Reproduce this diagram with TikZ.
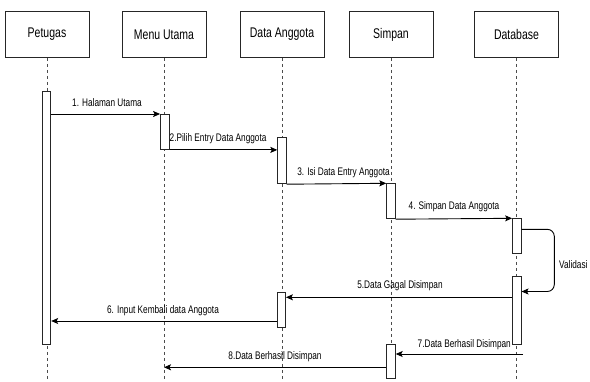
\documentclass[tikz,border=0pt]{standalone}
\usepackage{fontspec}
\setmainfont{Liberation Sans}[FakeStretch=0.75]
\usetikzlibrary{arrows.meta}
\begin{document}
\begin{tikzpicture}[x=1pt,y=-1pt,
  actor/.style={draw=black!85, line width=0.9pt, fill=white, minimum width=84pt, minimum height=46pt, inner sep=0, font=\fontsize{14}{16}\selectfont},
  life/.style={draw=black!70, line width=0.8pt, dash pattern=on 3pt off 3pt},
  act/.style={draw=black!85, line width=0.9pt, fill=white, minimum width=8.5pt, inner sep=0, anchor=north},
  msg/.style={draw=black, line width=0.9pt, -{Stealth[length=7pt,width=6pt,inset=1.5pt]}},
  lbl/.style={inner sep=0, font=\fontsize{11}{13}\selectfont}]
\useasboundingbox (0,0) rectangle (590,381);
% actors
\node[actor] (pet) at (47,34.5) {Petugas};
\node[actor] (menu) at (164,34.5) {Menu Utama};
\node[actor] (da) at (282,34.5) {Data Anggota};
\node[actor] (simp) at (391,34.5) {Simpan};
\node[actor] (db) at (516.5,34.5) {Database};
\coordinate (bot) at (0,381);
% lifelines
\draw[life] (pet.south) -- (pet.south |- bot);
\draw[life] (menu.south) -- (menu.south |- bot);
\draw[life] (da.south) -- (da.south |- bot);
\draw[life] (simp.south) -- (simp.south |- bot);
\draw[life] (db.south) -- (db.south |- bot);
% activations
\node[act, minimum height=253pt] (pA) at (46.5,91) {};
\node[act, minimum height=35pt] (mA) at (164.8,114) {};
\node[act, minimum height=46pt] (dA1) at (282,137.3) {};
\node[act, minimum height=35pt] (sA1) at (391,183.3) {};
\node[act, minimum height=34.4pt] (bA1) at (516.8,218.3) {};
\node[act, minimum height=68.6pt] (bA2) at (516.8,275.7) {};
\node[act, minimum height=35pt] (dA2) at (281.2,292.3) {};
\node[act, minimum height=34pt] (sA2) at (391,344.3) {};
% y levels
\coordinate (y5) at (0,297.3);
\coordinate (y6) at (0,321);
\coordinate (yv1) at (0,229.3);
\coordinate (yv2) at (0,291.5);
\coordinate (c7) at (523,354);
\coordinate (y8) at (0,367.3);
% messages
\draw[msg] (pA.east |- mA.north) -- (mA.north west);
\node[lbl] (l1) at (107,103) {1. Halaman Utama};
\draw[msg] (mA.south east) -- (dA1.west |- mA.south);
\node[lbl, anchor=west] (l2) at (169.5,139) {2.Pilih Entry Data Anggota};
\draw[msg] (dA1.south east) -- (sA1.north west);
\node[lbl, anchor=east] (l3) at (390,173) {3. Isi Data Entry Anggota};
\draw[msg] (sA1.south east) -- (bA1.north west);
\node[lbl] (l4) at (454,207) {4. Simpan Data Anggota};
\draw[msg, rounded corners=7pt] (bA1.east |- yv1) -- (554.3,229.3) -- (554.3,291.5) -- (bA2.east |- yv2);
\node[lbl, anchor=west] (lv) at (559,265) {Validasi};
\draw[msg] (bA2.west |- y5) -- (dA2.east |- y5);
\node[lbl] (l5) at (400,286) {5.Data Gagal Disimpan};
\draw[msg] (dA2.west |- y6) -- (pA.east |- y6);
\node[lbl] (l6) at (163,311) {6. Input Kembali data Anggota};
\draw[msg] (c7) -- (sA2.east |- c7);
\node[lbl, anchor=east] (l7) at (511,345) {7.Data Berhasil Disimpan};
\draw[msg] (sA2.west |- y8) -- (menu.south |- y8);
\node[lbl] (l8) at (275,356.5) {8.Data Berhasil Disimpan};
\end{tikzpicture}
\end{document}
